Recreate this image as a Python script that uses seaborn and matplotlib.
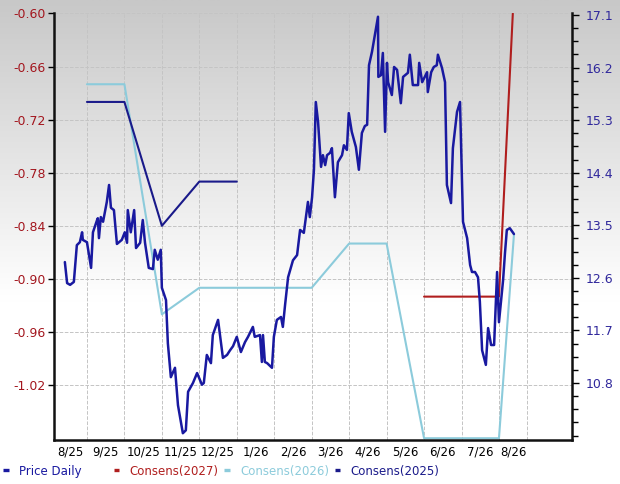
import numpy as np
import seaborn as sns
import matplotlib.pyplot as plt
from matplotlib.colors import LinearSegmentedColormap
from matplotlib.ticker import MultipleLocator
from matplotlib.lines import Line2D

# x is measured in months, 1.0 = start of Sep 2025
price_x = [0.41, 0.47, 0.55, 0.65, 0.73, 0.81, 0.87, 0.89, 1.00, 1.11,
           1.16, 1.27, 1.29, 1.32, 1.37, 1.43, 1.53, 1.59, 1.64, 1.72,
           1.80, 1.93, 2.01, 2.07, 2.09, 2.17, 2.26, 2.31, 2.42, 2.49,
           2.55, 2.65, 2.76, 2.81, 2.89, 2.97, 3.00, 3.11, 3.16, 3.24,
           3.35, 3.43, 3.56, 3.64, 3.70, 3.83, 3.94, 4.07, 4.12, 4.20,
           4.31, 4.36, 4.50, 4.63, 4.74, 4.82, 4.90, 5.00, 5.11, 5.22,
           5.30, 5.43, 5.48, 5.62, 5.67, 5.70, 5.75, 5.81, 5.94, 5.99,
           6.07, 6.18, 6.23, 6.29, 6.37, 6.50, 6.61, 6.69, 6.79, 6.90,
           6.95, 7.01, 7.06, 7.11, 7.17, 7.25, 7.30, 7.36, 7.41, 7.49,
           7.54, 7.62, 7.70, 7.81, 7.86, 7.94, 7.99, 8.07, 8.18, 8.26,
           8.34, 8.42, 8.48, 8.53, 8.61, 8.72, 8.77, 8.78, 8.85, 8.90,
           8.96, 9.01, 9.04, 9.14, 9.20, 9.28, 9.38, 9.44, 9.57, 9.62,
           9.70, 9.84, 9.87, 9.95, 10.08, 10.10, 10.19, 10.26, 10.34, 10.37,
           10.48, 10.56, 10.61, 10.72, 10.77, 10.88, 10.96, 11.04, 11.15, 11.23,
           11.28, 11.36, 11.44, 11.49, 11.55, 11.65, 11.71, 11.79, 11.87, 11.95,
           12.00, 12.11, 12.16, 12.21, 12.29, 12.40]
price_y = [12.87, 12.51, 12.48, 12.53, 13.16, 13.21, 13.38, 13.25, 13.21, 12.77,
           13.38, 13.59, 13.62, 13.28, 13.64, 13.56, 13.90, 14.19, 13.80, 13.76,
           13.18, 13.25, 13.38, 13.20, 13.76, 13.38, 13.76, 13.11, 13.20, 13.59,
           13.20, 12.77, 12.75, 13.08, 12.91, 13.08, 12.43, 12.22, 11.48, 10.90,
           11.06, 10.42, 9.94, 9.99, 10.65, 10.80, 10.97, 10.77, 10.80, 11.28,
           11.14, 11.62, 11.88, 11.23, 11.28, 11.36, 11.43, 11.59, 11.33, 11.50,
           11.59, 11.76, 11.59, 11.62, 11.16, 11.62, 11.16, 11.14, 11.06, 11.59,
           11.88, 11.93, 11.76, 12.14, 12.61, 12.90, 12.99, 13.42, 13.37, 13.90,
           13.64, 13.98, 14.45, 15.61, 15.27, 14.50, 14.70, 14.53, 14.70, 14.74,
           14.82, 13.98, 14.58, 14.70, 14.87, 14.79, 15.42, 15.10, 14.84, 14.45,
           15.08, 15.20, 15.22, 16.24, 16.47, 16.88, 17.07, 16.04, 16.07, 16.45,
           15.10, 16.28, 15.95, 15.73, 16.21, 16.16, 15.59, 16.04, 16.11, 16.42,
           15.90, 15.90, 16.28, 15.95, 16.12, 15.78, 16.12, 16.21, 16.24, 16.42,
           16.19, 15.95, 14.19, 13.88, 14.82, 15.44, 15.61, 13.56, 13.28, 12.82,
           12.70, 12.70, 12.61, 12.19, 11.36, 11.11, 11.74, 11.45, 11.45, 12.70,
           11.84, 12.56, 13.02, 13.42, 13.45, 13.35]

c2027_x = [10.0, 12.0, 12.37]
c2027_y = [-0.92, -0.92, -0.60]
c2026_x = [1.0, 2.0, 3.0, 4.0, 7.0, 8.0, 9.0, 10.0, 12.0, 12.4]
c2026_y = [-0.68, -0.68, -0.94, -0.91, -0.91, -0.86, -0.86, -1.08, -1.08, -0.85]
c2025_x = [1.0, 2.0, 3.0, 4.0, 5.0]
c2025_y = [-0.70, -0.70, -0.84, -0.79, -0.79]

month_labels = ["8/25", "9/25", "10/25", "11/25", "12/25", "1/26", "2/26",
                "3/26", "4/26", "5/26", "6/26", "7/26", "8/26"]
eps_ticks = [-1.02, -0.96, -0.90, -0.84, -0.78, -0.72, -0.66, -0.60]
price_ticks = [10.8, 11.7, 12.6, 13.5, 14.4, 15.3, 16.2, 17.1]

NAVY = "#1919a0"
NAVY25 = "#1a1a8a"
RED = "#b01e1e"
LIGHT = "#8ccbdb"

sns.set_theme(style="white")
plt.rcParams["font.family"] = ["DejaVu Sans"]
plt.rcParams["axes.unicode_minus"] = False

fig = plt.figure(figsize=(6.2, 4.84), dpi=100)
fig.patch.set_facecolor("white")

# grey-to-white background gradient
bg = fig.add_axes([0, 0, 1, 1], zorder=-10)
grad = np.linspace(0, 1, 256).reshape(-1, 1)
bg_cmap = LinearSegmentedColormap.from_list(
    "bg", [(0, "#c8c8c8"), (0.62, "#ffffff"), (1, "#ffffff")])
bg.imshow(grad, aspect="auto", cmap=bg_cmap, extent=[0, 1, 0, 1], origin="upper")
bg.axis("off")

ax = fig.add_axes([54 / 620, 44 / 484, 518 / 620, 427 / 484])
ax.set_facecolor("none")
ax2 = ax.twinx()
ax2.set_facecolor("none")

# consensus lines on the left axis
sns.lineplot(x=c2027_x, y=c2027_y, ax=ax, color=RED, lw=1.5, estimator=None, sort=False)
sns.lineplot(x=c2026_x, y=c2026_y, ax=ax, color=LIGHT, lw=1.5, estimator=None, sort=False)
sns.lineplot(x=c2025_x, y=c2025_y, ax=ax, color=NAVY25, lw=1.5, estimator=None, sort=False)
# price on the right axis
sns.lineplot(x=price_x, y=price_y, ax=ax2, color=NAVY, lw=1.8, estimator=None, sort=False)

x_left, x_right = 0.12, 13.95
ax.set_xlim(x_left, x_right)
ax.set_ylim(-1.082, -0.5995)
ax2.set_ylim(9.824, 17.134)

# month boundaries as gridlines, labels centred between them
grid_x = list(range(1, 13)) + [12.75]
bounds = [x_left] + grid_x
label_x = [(a + b) / 2 for a, b in zip(bounds[:-1], bounds[1:])]
ax.set_xticks(grid_x)
ax.set_xticklabels([])
ax.set_xticks(label_x, minor=True)
ax.set_xticklabels(month_labels, minor=True)
ax.tick_params(axis="x", which="both", length=0, pad=4, labelsize=8.5, colors="black")

ax.set_yticks(eps_ticks)
ax.set_yticklabels([f"{v:.2f}" for v in eps_ticks])
ax.tick_params(axis="y", length=4, width=1, pad=2, labelsize=9,
               labelcolor="#a3161e", color="black", direction="out")

ax2.set_yticks(price_ticks)
ax2.set_yticklabels([f"{v:.1f}" for v in price_ticks])
ax2.yaxis.set_minor_locator(MultipleLocator(0.225))
ax2.tick_params(axis="y", which="major", length=5, width=1, pad=5, labelsize=9,
                labelcolor="#30289c", color="black")
ax2.tick_params(axis="y", which="minor", length=4, width=1, color="black")

ax.grid(True, which="major", ls="--", lw=0.7, color="#c4c4c4")
ax.set_axisbelow(True)

for a in (ax, ax2):
    a.set_xlabel("")
    a.set_ylabel("")
    a.spines["top"].set_visible(False)
ax.spines["right"].set_visible(False)
ax2.spines["left"].set_visible(False)
ax2.spines["bottom"].set_visible(False)
for sp in (ax.spines["left"], ax.spines["bottom"], ax2.spines["right"]):
    sp.set_color("#111111")
    sp.set_linewidth(1.8)

# legend in fixed-width columns along the bottom
entries = [("Price Daily", NAVY), ("Consens(2027)", RED),
           ("Consens(2026)", LIGHT), ("Consens(2025)", NAVY25)]
for i, (lab, col) in enumerate(entries):
    h = Line2D([], [], color=col, lw=2.4, solid_capstyle="butt")
    fig.legend([h], [lab], loc="center left",
               bbox_to_anchor=((3 + 110.5 * i) / 620, 13 / 484),
               frameon=False, handlelength=0.5, handletextpad=0.85,
               borderpad=0, borderaxespad=0, labelcolor=col, fontsize=8.5)

fig.savefig("out.png", dpi=100)
